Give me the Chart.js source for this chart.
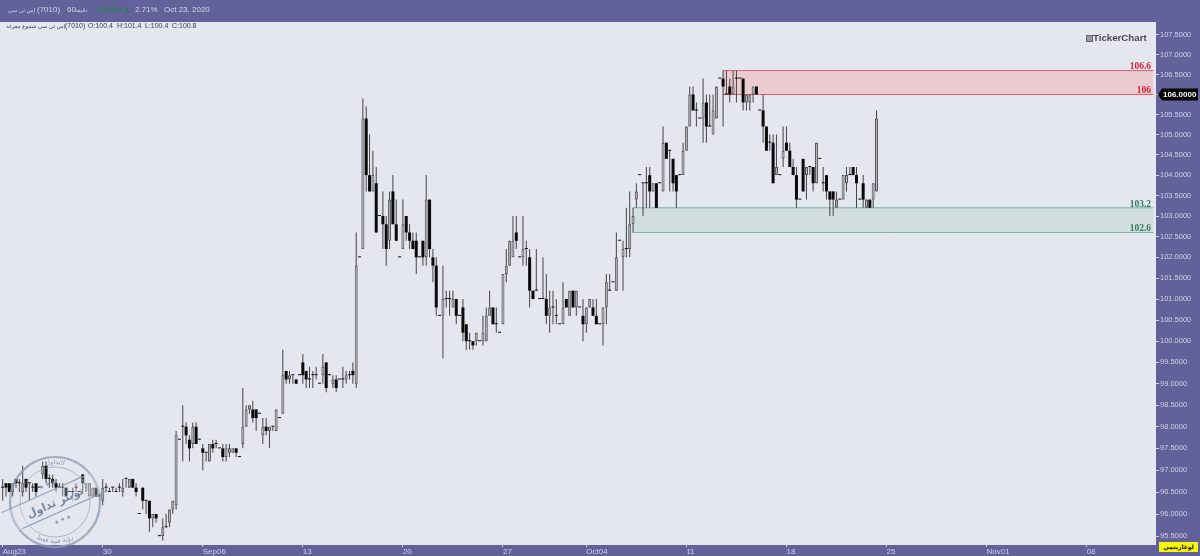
<!DOCTYPE html>
<html lang="ar">
<head>
<meta charset="utf-8">
<title>7010</title>
<script src="https://cdn.jsdelivr.net/npm/chart.js@4"></script>
<style>
  html, body { margin: 0; padding: 0; background: #63619a; overflow: hidden; }
  #wrap { position: relative; width: 1200px; height: 556px; overflow: hidden; }
  canvas { display: block; }
  .t { position: absolute; white-space: nowrap; font: 8px "Liberation Sans", "DejaVu Sans", sans-serif; line-height: 10px; }
  .head { color: #d4d5ea; top: 5px; }
  .sub { color: #3c3c4a; top: 21px; font-size: 7px; }
  .ar { font-family: "DejaVu Sans", sans-serif; font-size: 5.5px; }
  #logName { left: 1093px; top: 32px; font: bold 9.7px "Liberation Sans", sans-serif; line-height: 12px; color: #4a4a50; }
  #logIcon { position: absolute; left: 1086px; top: 35px; width: 5px; height: 5px; border: 1px solid #666; background: #9a9aa2; }
  #scaleBtn { position: absolute; left: 1159px; top: 542px; width: 39px; height: 10px; background: #f6f408; color: #111; text-align: center; font: bold 6px/10px "DejaVu Sans", sans-serif; }
  #stamp { position: absolute; left: 0; top: 450px; }
</style>
</head>
<body>
<div id="wrap">
  <canvas id="chart" width="1200" height="556"></canvas>

  <span class="t head ar" style="left:8px">إس تي سي</span>
  <span class="t head" style="left:37px">(7010)</span>
  <span class="t head" style="left:67px">60</span>
  <span class="t head ar" style="left:75px">دقيقة</span>
  <span class="t head" style="left:97px;color:#1f8a3c">105.50</span>
  <span class="t head" style="left:123px;color:#1f8a3c">▲</span>
  <span class="t head" style="left:135px">2.71%</span>
  <span class="t head" style="left:164px">Oct 23, 2020</span>

  <span class="t sub ar" style="left:6px">إس تي سي شموع مفرغة</span>
  <span class="t sub" style="left:65px">(7010)</span>
  <span class="t sub" style="left:88px">O:100.4</span>
  <span class="t sub" style="left:117px">H:101.4</span>
  <span class="t sub" style="left:145px">L:100.4</span>
  <span class="t sub" style="left:172px">C:100.8</span>

  <div id="logIcon"></div>
  <span class="t" id="logName">TickerChart</span>
  <div id="scaleBtn">لوغاريتمي</div>

  <svg id="stamp" width="112" height="106" viewBox="0 0 112 106">
    <defs>
      <path id="arcTop" d="M 17 52 A 38 38 0 0 1 93 52"></path>
      <path id="arcBot" d="M 14 52 A 41 41 0 0 0 96 52"></path>
    </defs>
    <g fill="none" stroke="#8a9bb0" stroke-opacity="0.75">
      <circle cx="55" cy="52" r="45" stroke-width="2.2"></circle>
      <circle cx="55" cy="52" r="35" stroke-width="0.8"></circle>
    </g>
    <g transform="rotate(-24 55 52)">
      <rect x="8" y="40" width="94" height="23" fill="#e4e6f0" fill-opacity="0.3"></rect>
      <line x1="2" y1="40" x2="92" y2="40" stroke="#8a9bb0" stroke-width="1"></line>
      <line x1="14" y1="63" x2="106" y2="63" stroke="#8a9bb0" stroke-width="1"></line>
      <text x="55" y="56" text-anchor="middle" font-family="DejaVu Sans" font-weight="bold" font-size="11" fill="#7488a0">تويتر تداول</text>
      <text x="55" y="35" text-anchor="middle" font-size="6" fill="#8a9bb0">★ ★ ★</text>
      <text x="55" y="73" text-anchor="middle" font-size="6" fill="#8a9bb0">★ ★ ★</text>
    </g>
    <text font-family="DejaVu Sans" font-size="6.5" fill="#8a9bb0"><textPath href="#arcTop" startOffset="50%" text-anchor="middle">التداول</textPath></text>
    <text font-family="DejaVu Sans" font-size="6.5" fill="#8a9bb0"><textPath href="#arcBot" startOffset="50%" text-anchor="middle">رؤية فنية فقط</textPath></text>
  </svg>
</div>

<script>
// hourly candles, one line per ten bars
const opens = [
  96.6,96.7,96.7,96.5,96.8,96.7,96.5,96.8,96.7,96.6,
  96.7,96.6,96.9,97.1,96.8,96.8,96.7,96.6,96.6,96.6,
  96.5,96.5,96.6,96.5,96.9,96.6,96.4,96.4,96.6,96.4,
  96.3,96.6,96.5,96.6,96.5,96.6,96.5,96.8,96.6,96.8,
  96.6,96.0,96.6,96.3,96.3,95.9,96.0,95.5,95.5,95.7,
  95.8,96.1,96.2,97.7,98.0,98.0,97.7,97.6,98.0,97.7,
  97.5,97.4,97.2,97.6,97.6,97.5,97.5,97.3,97.4,97.4,
  97.5,97.3,97.6,98.0,98.4,98.4,98.4,98.3,97.8,98.0,
  97.9,98.0,97.9,98.2,98.3,99.3,99.1,99.2,99.1,99.2,
  99.5,99.3,99.1,99.2,99.2,99.0,99.2,99.5,99.2,99.0,
  99.1,99.1,99.1,99.1,99.2,99.3,99.0,102.0,102.2,105.4,
  104.0,103.6,103.8,103.0,103.0,102.8,102.4,103.6,102.8,102.0,
  102.2,103.0,102.6,102.4,102.4,102.0,102.4,102.0,103.4,102.0,
  101.8,100.6,100.6,101.0,101.0,100.8,101.0,100.6,100.8,100.4,
  100.0,100.0,100.0,100.0,100.0,100.0,100.6,100.8,100.4,100.2,
  100.4,101.6,101.8,102.0,102.6,102.0,102.0,102.2,102.0,101.2,
  101.2,101.0,101.0,101.0,100.6,100.8,100.6,100.4,100.4,101.0,
  100.6,101.2,100.8,100.8,100.6,100.4,100.8,100.8,100.6,100.4,
  100.4,100.8,101.2,101.4,101.2,102.4,102.0,102.2,102.2,102.8,
  103.4,104.0,103.8,103.8,104.0,103.6,103.8,103.8,103.6,104.8,
  104.6,104.4,104.0,104.0,104.0,104.6,105.2,106.0,105.6,105.4,
  105.4,105.8,105.2,105.0,105.4,106.4,106.4,106.0,106.2,106.0,
  106.4,106.4,106.4,105.8,105.8,106.0,106.2,105.6,105.6,105.2,
  104.8,104.8,104.0,104.0,104.4,104.8,104.6,104.2,104.0,103.4,
  104.4,104.0,104.2,104.2,103.8,104.4,103.8,104.0,103.6,103.6,
  103.2,103.4,103.4,103.8,104.0,104.2,104.0,103.4,103.8,103.2,
  103.4,103.4,103.6
];
const highs = [
  96.8,96.7,96.7,96.7,96.8,96.8,97.1,96.8,96.7,96.7,
  96.7,96.6,97.2,97.2,96.9,96.9,96.8,96.7,96.7,96.6,
  96.5,96.6,96.7,96.5,96.9,96.7,96.7,96.6,96.6,96.4,
  96.8,96.7,96.6,96.6,96.6,96.7,96.8,96.8,96.8,96.8,
  96.7,96.0,96.6,96.3,96.3,96.0,96.0,95.5,95.9,96.0,
  96.1,96.3,97.9,97.7,98.5,98.1,97.8,98.1,98.1,97.7,
  97.6,97.4,97.6,97.7,97.7,97.5,97.6,97.6,97.6,97.5,
  97.5,97.3,98.9,98.5,98.5,98.6,98.4,98.3,98.2,98.2,
  98.0,98.0,98.4,98.2,99.8,99.3,99.3,99.2,99.1,99.2,
  99.7,99.3,99.4,99.3,99.4,99.0,99.7,99.5,99.2,99.2,
  99.2,99.1,99.4,99.3,99.3,99.5,102.6,102.0,105.9,105.7,
  105.0,104.6,104.2,103.0,103.6,103.0,103.6,104.0,103.4,102.0,
  103.4,103.0,102.8,102.6,102.6,102.0,102.4,104.0,103.4,102.2,
  102.0,100.6,101.8,101.2,101.2,101.2,101.0,100.6,101.0,100.4,
  100.2,100.0,100.2,100.0,100.6,100.8,101.2,100.8,100.8,100.2,
  101.6,102.2,102.4,103.0,103.0,102.0,103.0,102.4,102.2,101.2,
  102.2,101.0,102.0,101.6,101.2,101.2,101.0,100.4,101.4,101.0,
  101.2,101.2,101.2,100.8,101.0,100.8,101.0,101.0,101.0,100.4,
  100.8,101.6,101.6,101.4,102.6,102.4,102.4,103.2,103.6,103.2,
  103.8,104.0,103.8,104.2,104.2,103.8,103.8,103.8,105.2,104.8,
  104.6,104.4,104.0,104.0,104.8,105.2,106.2,106.2,105.8,105.4,
  106.4,106.0,106.0,106.0,106.2,106.4,106.6,106.6,106.4,106.6,
  106.6,106.4,106.4,106.0,106.0,106.2,106.2,105.6,106.0,105.2,
  105.0,105.0,105.0,104.0,105.2,105.2,104.8,104.4,104.2,103.4,
  104.4,104.2,104.2,104.2,104.8,104.4,104.2,104.0,103.6,103.6,
  103.6,103.4,104.0,104.2,104.2,104.2,104.2,103.4,104.0,103.4,
  103.4,103.8,105.6
];
const lows = [
  96.3,96.4,96.5,96.4,96.6,96.5,96.4,96.5,96.3,96.5,
  96.4,96.6,96.8,96.7,96.6,96.6,96.5,96.6,96.4,96.4,
  96.5,96.4,96.5,96.5,96.5,96.5,96.4,96.4,96.4,96.4,
  96.2,96.5,96.5,96.5,96.5,96.5,96.4,96.6,96.6,96.6,
  96.4,96.0,96.1,96.0,95.6,95.7,95.8,95.5,95.4,95.7,
  95.7,96.0,96.1,97.7,97.2,97.6,97.2,97.5,97.6,97.7,
  97.0,97.2,97.2,97.4,97.5,97.5,97.2,97.2,97.3,97.4,
  97.3,97.3,97.5,98.0,98.3,98.1,97.9,98.3,97.6,97.8,
  97.5,97.9,97.9,98.2,98.3,99.0,99.0,99.0,99.0,99.2,
  99.0,98.9,98.9,98.9,99.1,99.0,99.0,98.8,99.2,98.9,
  98.8,99.1,98.9,99.0,99.1,99.0,98.9,102.0,102.2,103.6,
  103.6,103.6,102.6,103.0,102.2,101.8,102.2,102.8,102.4,102.0,
  102.2,102.4,102.2,102.2,101.6,102.0,101.8,101.8,102.0,101.4,
  100.6,100.6,99.6,100.8,100.6,100.8,100.4,100.6,100.0,99.8,
  99.8,99.8,99.9,100.0,99.9,100.0,100.6,100.4,100.2,100.2,
  100.4,101.4,101.8,102.0,102.2,102.0,101.8,101.8,100.8,101.0,
  101.2,101.0,101.0,100.4,100.2,100.4,100.4,100.4,100.4,100.8,
  100.6,100.8,100.6,100.8,100.0,100.2,100.8,100.6,100.4,100.4,
  99.9,100.4,101.2,101.4,101.2,102.4,101.2,102.0,102.0,102.6,
  103.2,104.0,103.0,103.2,103.2,103.6,103.2,103.8,103.6,104.4,
  103.6,103.6,103.2,104.0,104.0,104.6,105.2,105.6,105.2,105.4,
  104.8,104.8,105.2,105.0,105.4,106.4,105.2,106.0,105.8,106.0,
  105.8,106.4,105.6,105.6,105.6,105.8,106.0,105.6,104.8,104.6,
  104.6,103.8,104.0,104.0,104.2,104.6,104.2,104.0,103.2,103.4,
  103.6,103.4,104.0,103.6,103.8,104.4,103.6,103.4,103.0,103.0,
  103.2,103.4,103.4,103.6,104.0,104.0,103.2,103.4,103.2,103.2,
  103.2,103.2,103.6
];
const closes = [
  96.6,96.6,96.5,96.7,96.7,96.7,96.7,96.6,96.7,96.6,
  96.5,96.6,97.1,96.8,96.8,96.7,96.6,96.6,96.6,96.4,
  96.5,96.5,96.6,96.5,96.7,96.7,96.7,96.6,96.4,96.4,
  96.6,96.6,96.5,96.6,96.5,96.6,96.6,96.8,96.8,96.6,
  96.5,96.0,96.3,96.3,95.9,96.0,95.9,95.5,95.7,95.7,
  96.1,96.3,97.8,97.7,98.0,97.8,97.5,98.0,97.6,97.7,
  97.4,97.4,97.6,97.5,97.6,97.5,97.3,97.5,97.5,97.5,
  97.4,97.3,98.0,98.4,98.5,98.2,98.2,98.3,98.0,97.9,
  98.0,98.0,98.4,98.2,99.2,99.1,99.2,99.2,99.0,99.2,
  99.2,99.1,99.1,99.2,99.2,99.0,99.4,98.9,99.2,99.1,
  98.9,99.1,99.1,99.2,99.2,99.2,101.8,102.0,105.4,104.0,
  103.6,104.0,102.6,103.0,102.8,102.2,103.4,102.8,102.4,102.0,
  102.8,102.6,102.4,102.2,102.0,102.0,102.0,103.4,102.2,101.8,
  100.8,100.6,101.0,101.0,101.0,101.0,100.6,100.6,100.2,100.0,
  100.0,99.9,100.2,100.0,100.2,100.6,100.8,100.4,100.4,100.2,
  101.6,101.8,102.4,102.4,102.4,102.0,102.2,102.2,101.2,101.0,
  101.2,101.0,101.0,100.6,100.8,100.8,100.6,100.4,100.8,100.8,
  101.2,100.8,101.2,100.8,100.4,100.8,101.0,100.6,100.4,100.4,
  100.8,101.4,101.2,101.4,102.0,102.4,102.2,102.2,102.8,103.0,
  103.6,104.0,103.8,103.8,103.6,103.8,103.2,103.8,104.8,104.4,
  104.6,103.8,103.6,104.0,104.6,105.2,106.0,105.6,105.6,105.4,
  105.8,105.2,105.2,105.6,106.2,106.4,106.2,106.0,106.0,106.2,
  106.4,106.4,105.8,106.0,106.0,106.2,106.0,105.6,105.2,104.6,
  104.8,103.8,104.2,104.0,104.6,104.6,104.2,104.0,103.4,103.4,
  103.6,104.2,104.2,103.8,104.8,104.4,103.8,103.6,103.4,103.4,
  103.4,103.4,104.0,104.0,104.0,104.0,103.8,103.4,103.4,103.4,
  103.2,103.8,105.4
];

// axis labels: weekly date marks (bar number of each) and the price ticks
const weekBars = [0, 30, 60, 90, 120, 150, 175, 205, 235, 265, 295, 325];
const weekLabels = ['Aug23', '30', 'Sep06', '13', '20', '27', 'Oct04', '11', '18', '25', 'Nov01', '08'];
const priceTicks = [95.5, 96, 96.5, 97, 97.5, 98, 98.5, 99, 99.5, 100, 100.5, 101, 101.5, 102, 102.5,
  103, 103.5, 104, 104.5, 105, 105.5, 106, 106.5, 107, 107.5];

// supply / demand zones
const zoneEndBar = 345;
const redZoneBar = 216;
const greenZoneBar = 189;
const redZone = [106.6, 106];
const greenZone = [103.2, 102.6];
const lastPrice = 106;

const PLOT_BG = '#e4e6f0';
const PANEL_BG = '#63619a';
const TICK_TEXT = '#cfd0e6';

const wickData = opens.map((o, i) => ({ x: i, y: [lows[i], highs[i]] }));
const bodyData = opens.map((o, i) => ({ x: i, y: [o, closes[i]] }));

const isUp = (i) => closes[i] > opens[i];

function zoneLine(fromBar, level, color, fillColor) {
  return {
    type: 'line',
    data: [{ x: fromBar, y: level }, { x: zoneEndBar, y: level }],
    borderColor: color,
    backgroundColor: fillColor || 'transparent',
    borderWidth: 1,
    pointRadius: 0,
    fill: fillColor ? '+1' : false,
    order: 3,
  };
}

const zoneLabels = [
  { text: '106.6', price: 106.6, color: '#dd2230' },
  { text: '106', price: 106, color: '#dd2230' },
  { text: '103.2', price: 103.2, color: '#2f7d55' },
  { text: '102.6', price: 102.6, color: '#2f7d55' },
];

const paintPanels = {
  id: 'paintPanels',
  beforeDraw(chart) {
    const { ctx, chartArea: a, width, height } = chart;
    ctx.save();
    ctx.fillStyle = PANEL_BG;
    ctx.fillRect(0, 0, width, height);
    ctx.fillStyle = PLOT_BG;
    ctx.fillRect(a.left, a.top, a.right - a.left, a.bottom - a.top);
    ctx.restore();
  },
};

const priceMarks = {
  id: 'priceMarks',
  afterDraw(chart) {
    const { ctx } = chart;
    const y = chart.scales.y;
    ctx.save();
    ctx.textAlign = 'right';
    ctx.textBaseline = 'bottom';
    ctx.font = 'bold 9.5px "Liberation Serif", serif';
    zoneLabels.forEach(z => {
      ctx.fillStyle = z.color;
      ctx.fillText(z.text, 1151, y.getPixelForValue(z.price) + 1);
    });

    // black flag holding the last price on the axis
    const py = y.getPixelForValue(lastPrice);
    ctx.fillStyle = '#000';
    ctx.beginPath();
    ctx.moveTo(1158, py);
    ctx.lineTo(1162, py - 6);
    ctx.lineTo(1198, py - 6);
    ctx.lineTo(1198, py + 6);
    ctx.lineTo(1162, py + 6);
    ctx.closePath();
    ctx.fill();
    ctx.fillStyle = '#fff';
    ctx.font = 'bold 8px "Liberation Sans", sans-serif';
    ctx.textAlign = 'left';
    ctx.textBaseline = 'middle';
    ctx.fillText(lastPrice.toFixed(4), 1163, py + 0.5);
    ctx.restore();
  },
};

new Chart(document.getElementById('chart'), {
  type: 'bar',
  data: {
    datasets: [
      zoneLine(redZoneBar, redZone[0], '#d9606a', 'rgba(251,147,143,0.3)'),
      zoneLine(redZoneBar, redZone[1], '#d9505c'),
      zoneLine(greenZoneBar, greenZone[0], '#74b39f', 'rgba(171,207,183,0.3)'),
      zoneLine(greenZoneBar, greenZone[1], '#74b39f'),
      {
        label: 'wick',
        data: wickData,
        backgroundColor: '#444',
        barThickness: 1,
        grouped: false,
        inflateAmount: 0,
        order: 2,
      },
      {
        label: 'body',
        data: bodyData,
        backgroundColor: opens.map((o, i) => isUp(i) ? '#b8b9c4' : '#0a0a0a'),
        borderColor: opens.map((o, i) => isUp(i) ? '#555' : '#0a0a0a'),
        borderWidth: opens.map((o, i) => isUp(i) ? 1 : 0),
        borderSkipped: false,
        barThickness: 3,
        minBarLength: 1,
        grouped: false,
        inflateAmount: 0,
        order: 1,
      },
    ],
  },
  options: {
    responsive: false,
    animation: false,
    layout: { padding: { top: 22, left: 0, right: 0, bottom: 0 } },
    plugins: { legend: { display: false }, tooltip: { enabled: false }, title: { display: false } },
    scales: {
      x: {
        type: 'linear',
        offset: false,
        min: -0.8,
        max: 345.8,
        grid: { display: true, offset: false, drawOnChartArea: false, tickLength: 2, color: TICK_TEXT },
        border: { display: false },
        afterBuildTicks(scale) {
          scale.ticks = weekBars.map(v => ({ value: v }));
        },
        afterFit(scale) { scale.height = 11; },
        ticks: {
          autoSkip: false,
          maxRotation: 0,
          align: 'start',
          padding: 0,
          color: TICK_TEXT,
          font: { family: '"Liberation Sans", sans-serif', size: 8 },
          callback: (v, i) => weekLabels[i] || '',
        },
      },
      y: {
        type: 'logarithmic',
        position: 'right',
        bounds: 'data',
        min: 95.3,
        max: 107.83,
        grid: { display: true, drawOnChartArea: false, tickLength: 3, color: TICK_TEXT },
        border: { display: false },
        afterBuildTicks(scale) {
          scale.ticks = priceTicks.map(v => ({ value: v }));
        },
        afterFit(scale) { scale.width = 44; },
        ticks: {
          autoSkip: false,
          padding: 1,
          color: TICK_TEXT,
          font: { family: '"Liberation Sans", sans-serif', size: 7.5 },
          callback: (v) => Number(v).toFixed(4),
        },
      },
    },
  },
  plugins: [paintPanels, priceMarks],
});
</script>
</body>
</html>
